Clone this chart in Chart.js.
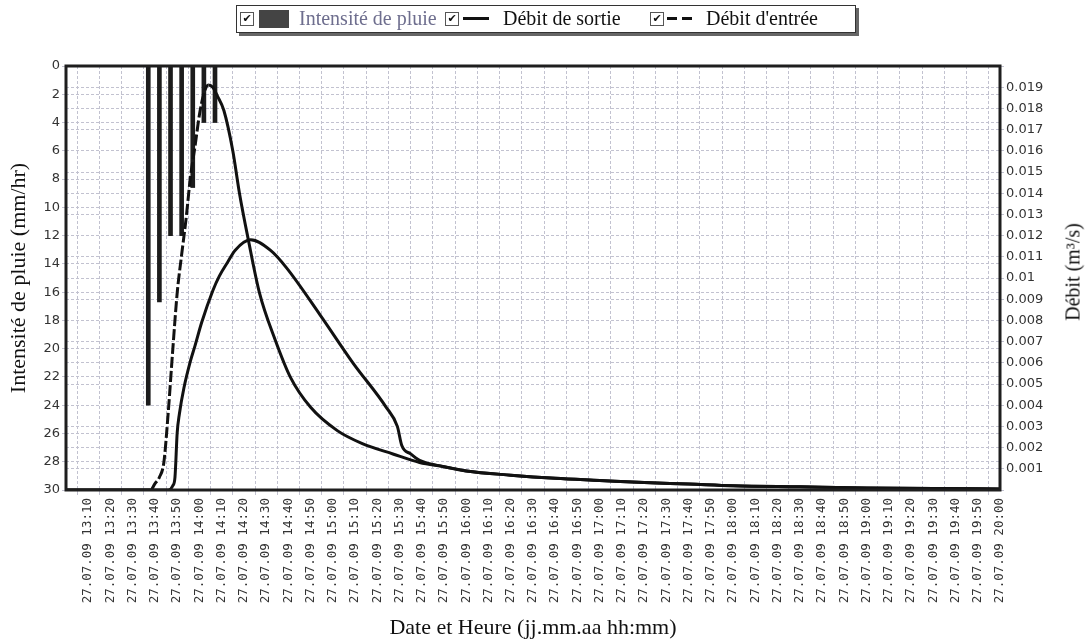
<!DOCTYPE html>
<html>
<head>
<meta charset="utf-8">
<script src="https://cdn.jsdelivr.net/npm/chart.js@4.4.1/dist/chart.umd.min.js"></script>
<style>
  html, body { margin: 0; padding: 0; background: #fff; }
  #wrap { position: relative; width: 1086px; height: 643px; }
  #legend {
    position: absolute; left: 236px; top: 5px; width: 618px; height: 26px;
    border: 1px solid #333; box-shadow: 3px 3px 0 #666; background: #fff;
    font-family: 'Liberation Serif', serif; font-size: 20px; color: #111;
  }
  #legend .cb {
    position: absolute; top: 6px; width: 12px; height: 12px; border: 1px solid #555;
    font: 11px 'DejaVu Sans', sans-serif; line-height: 12px; text-align: center; color: #111;
  }
  #legend .txt { position: absolute; top: 1px; white-space: nowrap; }
  #rightTitle {
    position: absolute; left: 1073px; top: 272px; white-space: nowrap;
    transform: translate(-50%, -50%) rotate(-90deg);
    font-family: 'Liberation Serif', serif; font-size: 20px; color: #111;
  }
</style>
</head>
<body>
<div id="wrap">
  <canvas id="rainChart"></canvas>
  <div id="legend">
    <div class="cb" style="left:3px">✔</div>
    <div style="position:absolute;left:22px;top:4px;width:30px;height:18px;background:#444"></div>
    <div class="txt" style="left:62px;color:#6e6e8e">Intensité de pluie</div>
    <div class="cb" style="left:208px">✔</div>
    <div style="position:absolute;left:226px;top:11px;width:26px;height:3px;background:#111"></div>
    <div class="txt" style="left:266px">Débit de sortie</div>
    <div class="cb" style="left:413px">✔</div>
    <div style="position:absolute;left:430px;top:11px;width:10px;height:3px;background:#111"></div>
    <div style="position:absolute;left:445px;top:11px;width:10px;height:3px;background:#111"></div>
    <div class="txt" style="left:469px">Débit d'entrée</div>
  </div>
  <div id="rightTitle">Débit (m³/s)</div>
</div>
<script>
// données
const dateLabel = '27.07.09';
const xStart = '13:00';
const xEnd = '20:00';

const rainTimes = ['13:37', '13:42', '13:47', '13:52', '13:57', '14:02', '14:07'];
const rainValues = [24, 16.7, 12, 12, 8.6, 4, 4];

const outflowTimes = ['13:00', '13:46', '13:48', '13:49', '13:50', '13:51', '13:53', '13:56', '13:58', '14:01',
  '14:06', '14:09', '14:13', '14:16', '14:23', '14:32', '14:39', '14:54', '15:09', '15:24',
  '15:29', '15:31', '15:35', '15:39', '15:50', '16:00', '16:20', '16:40', '17:00', '17:20',
  '17:40', '18:00', '18:30', '19:00', '19:30', '20:00'];
const outflowValues = [0, 0, 0.0002, 0.0006, 0.0027, 0.0036, 0.0048, 0.0061, 0.0068, 0.0079,
  0.0094, 0.0101, 0.0108, 0.0113, 0.0118, 0.0113, 0.0105, 0.0083, 0.006, 0.0039,
  0.003, 0.0021, 0.0017, 0.0014, 0.0011, 0.0009, 0.0007, 0.00055, 0.00045, 0.00035,
  0.00028, 0.0002, 0.00015, 0.0001, 0.00007, 0.00005];

const inflowTimes = ['13:00', '13:38', '13:40', '13:42', '13:44', '13:46', '13:48', '13:50', '13:52', '13:54',
  '13:56', '13:58', '14:00', '14:02', '14:04', '14:06', '14:08', '14:11', '14:15', '14:18',
  '14:22', '14:27', '14:34', '14:41', '14:50', '15:02', '15:13', '15:27', '15:39', '15:50',
  '16:00', '16:20', '16:40', '17:00', '17:20', '17:40', '18:00', '18:30', '19:00', '19:30', '20:00'];
const inflowValues = [0, 0, 0.0003, 0.0006, 0.0013, 0.0037, 0.0066, 0.0093, 0.0111, 0.0128,
  0.0148, 0.0162, 0.0177, 0.0187, 0.0191, 0.019, 0.0186, 0.0179, 0.016, 0.014,
  0.0118, 0.0093, 0.0071, 0.0053, 0.0039, 0.0028, 0.0022, 0.0017, 0.0013, 0.0011,
  0.0009, 0.0007, 0.00055, 0.00045, 0.00035, 0.00028, 0.0002, 0.00015, 0.0001, 0.00007, 0.00005];

function toMin(s) {
  const p = s.split(':').map(Number);
  return p[0] * 60 + p[1];
}
function fmtMin(v) {
  const h = Math.floor(v / 60), m = Math.round(v % 60);
  return String(h).padStart(2, '0') + ':' + String(m).padStart(2, '0');
}
function pts(times, vals) {
  return times.map((t, i) => ({ x: toMin(t), y: vals[i] }));
}

const gridCol = '#c2c2d0';

// cadre noir autour de la zone de tracé
const framePlugin = {
  id: 'frame',
  afterDatasetsDraw(chart) {
    const { ctx, chartArea: a } = chart;
    ctx.save();
    ctx.strokeStyle = '#1e1e1e';
    ctx.lineWidth = 3;
    ctx.strokeRect(a.left, a.top, a.right - a.left, a.bottom - a.top);
    ctx.restore();
  }
};

const ctx = document.getElementById('rainChart').getContext('2d');
const rainChart = new Chart(ctx, {
  type: 'line',
  data: {
    datasets: [
      {
        type: 'bar',
        label: 'Intensité de pluie',
        data: pts(rainTimes, rainValues),
        yAxisID: 'yRain',
        backgroundColor: '#1c1c1c',
        barThickness: 4,
        order: 3
      },
      {
        label: 'Débit de sortie',
        data: pts(outflowTimes, outflowValues),
        yAxisID: 'yFlow',
        borderColor: '#111',
        borderWidth: 3,
        pointRadius: 0,
        cubicInterpolationMode: 'monotone',
        order: 1
      },
      {
        label: "Débit d'entrée",
        data: pts(inflowTimes, inflowValues),
        yAxisID: 'yFlow',
        borderColor: '#111',
        borderWidth: 3,
        pointRadius: 0,
        cubicInterpolationMode: 'monotone',
        segment: {
          borderDash: c => c.p1.parsed.y > c.p0.parsed.y ? [11, 3] : []
        },
        order: 2
      }
    ]
  },
  options: {
    responsive: true,
    maintainAspectRatio: false,
    animation: false,
    layout: { padding: { top: 66, left: 0, right: 0, bottom: 0 } },
    plugins: {
      legend: { display: false },
      tooltip: { enabled: false }
    },
    scales: {
      x: {
        type: 'linear',
        min: toMin(xStart),
        max: toMin(xEnd),
        offset: false,
        afterFit: s => { s.height = 153; },
        border: { display: false, dash: [3, 2] },
        grid: { color: gridCol, tickLength: 5 },
        ticks: {
          stepSize: 10,
          autoSkip: false,
          minRotation: 90,
          maxRotation: 90,
          padding: 3,
          color: '#333',
          font: { family: 'DejaVu Sans Mono', size: 12.5 },
          callback: v => v === toMin(xStart) ? '' : dateLabel + ' ' + fmtMin(v)
        },
        title: {
          display: true,
          text: 'Date et Heure (jj.mm.aa hh:mm)',
          color: '#111',
          font: { family: 'Liberation Serif', size: 22 },
          padding: { top: 0, bottom: 2 }
        }
      },
      yRain: {
        position: 'left',
        reverse: true,
        min: 0,
        max: 30,
        afterFit: s => { s.width = 66; },
        border: { display: false, dash: [3, 2] },
        grid: { color: gridCol, tickLength: 4 },
        ticks: {
          stepSize: 2,
          padding: 2,
          color: '#333',
          font: { family: 'DejaVu Sans', size: 13 }
        },
        title: {
          display: true,
          text: 'Intensité de pluie (mm/hr)',
          color: '#111',
          font: { family: 'Liberation Serif', size: 22 },
          padding: { top: 6, bottom: 0 }
        }
      },
      yFlow: {
        position: 'right',
        min: 0,
        max: 0.02,
        afterFit: s => { s.width = 86; },
        border: { display: false, dash: [3, 2] },
        grid: { color: gridCol, tickLength: 4 },
        ticks: {
          stepSize: 0.001,
          padding: 2,
          color: '#333',
          font: { family: 'DejaVu Sans', size: 13 },
          callback: v => (v <= 0 || v >= 0.02 - 1e-9) ? '' : String(+v.toFixed(3))
        }
      }
    }
  },
  plugins: [framePlugin]
});
</script>
</body>
</html>
